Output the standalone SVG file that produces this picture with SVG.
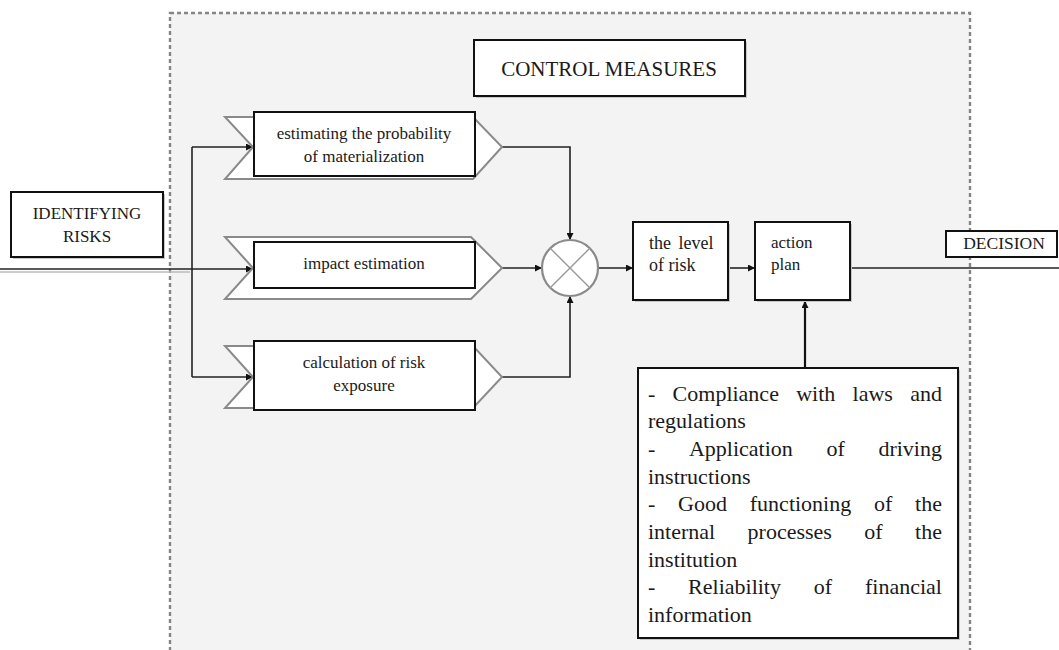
<svg xmlns="http://www.w3.org/2000/svg" width="1059" height="650" viewBox="0 0 1059 650">
<style>
  .t { font-family: "Liberation Serif", "Times New Roman", serif; fill: #1a1a1a; }
  .box { fill: #fff; stroke: #111; stroke-width: 2; }
  .shadow { fill: #c8c8c8; }
  .chev { fill: #fff; stroke: #8a8a8a; stroke-width: 2; }
  .line { fill: none; stroke: #222; stroke-width: 1.6; }
  .thick { fill: none; stroke: #111; stroke-width: 2.2; }
</style>
<defs>
  <marker id="arr" viewBox="0 0 10 10" refX="10" refY="5" markerWidth="7" markerHeight="7" markerUnits="userSpaceOnUse" orient="auto">
    <path d="M0,0 L10,5 L0,10 z" fill="#111"/>
  </marker>
</defs>
<rect x="0" y="0" width="1059" height="650" fill="#fff"/>
<g id="container">
  <rect x="170" y="13" width="800" height="660" fill="#f3f3f3" stroke="#858585" stroke-width="2.4" stroke-dasharray="4 3"/>
</g>

<g id="connectors">
  <line x1="0" y1="272" x2="190" y2="272" stroke="#bbb" stroke-width="1.5"/>
  <line class="line" x1="0" y1="269" x2="253" y2="269" marker-end="url(#arr)"/>
  <line class="line" x1="192" y1="147" x2="192" y2="377"/>
  <line class="line" x1="192" y1="147" x2="253" y2="147" marker-end="url(#arr)"/>
  <line class="line" x1="192" y1="377" x2="253" y2="377" marker-end="url(#arr)"/>
  <polyline class="line" points="502,147 570,147 570,240" marker-end="url(#arr)"/>
  <line class="line" x1="502" y1="268" x2="542" y2="268" marker-end="url(#arr)"/>
  <polyline class="line" points="502,377 570,377 570,296" marker-end="url(#arr)"/>
  <line class="line" x1="598" y1="268" x2="633" y2="268" marker-end="url(#arr)"/>
  <line class="line" x1="728" y1="268" x2="755" y2="268" marker-end="url(#arr)"/>
  <line class="line" x1="850" y1="268" x2="1059" y2="268"/>
  <line class="thick" x1="805" y1="368" x2="805" y2="301" marker-end="url(#arr)"/>
</g>

<g id="control-measures">
  <rect class="shadow" x="476" y="42" width="271" height="56"/>
  <rect class="box" x="474" y="40" width="271" height="56"/>
  <text class="t" x="609" y="76" font-size="21" text-anchor="middle">CONTROL MEASURES</text>
</g>

<g id="identifying-risks">
  <rect class="shadow" x="13" y="194" width="152" height="65"/>
  <rect class="box" x="11" y="192" width="152" height="65"/>
  <text class="t" x="87" y="219" font-size="17" text-anchor="middle">IDENTIFYING</text>
  <text class="t" x="87" y="242" font-size="17" text-anchor="middle">RISKS</text>
</g>

<g id="estimating">
  <polygon class="chev" points="225,117 473,117 502,147 473,179 225,179 253,147"/>
  <rect class="box" x="254" y="112" width="221" height="64"/>
  <text class="t" x="364" y="139" font-size="17" text-anchor="middle">estimating the probability</text>
  <text class="t" x="364" y="162" font-size="17" text-anchor="middle">of materialization</text>
</g>

<g id="impact">
  <polygon class="chev" points="225,237 471,237 502,268 471,299 225,299 253,268"/>
  <rect class="box" x="254" y="242" width="221" height="46"/>
  <text class="t" x="364" y="269" font-size="17" text-anchor="middle">impact estimation</text>
</g>

<g id="calculation">
  <polygon class="chev" points="225,346 473,346 502,377 473,408 225,408 253,377"/>
  <rect class="box" x="254" y="341" width="221" height="69"/>
  <text class="t" x="364" y="368" font-size="17" text-anchor="middle">calculation of risk</text>
  <text class="t" x="364" y="391" font-size="17" text-anchor="middle">exposure</text>
</g>

<g id="combine">
  <circle cx="570" cy="268" r="28" fill="#fff" stroke="#8a8a8a" stroke-width="2.2"/>
  <line x1="550" y1="248" x2="590" y2="288" stroke="#9a9a9a" stroke-width="1.4"/>
  <line x1="590" y1="248" x2="550" y2="288" stroke="#9a9a9a" stroke-width="1.4"/>
</g>

<g id="level-of-risk">
  <rect class="shadow" x="635" y="224" width="95" height="78"/>
  <rect class="box" x="633" y="222" width="95" height="78"/>
  <text class="t" x="649" y="249" font-size="18" word-spacing="3">the level</text>
  <text class="t" x="649" y="271" font-size="18">of risk</text>
</g>

<g id="action-plan">
  <rect class="shadow" x="757" y="224" width="95" height="78"/>
  <rect class="box" x="755" y="222" width="95" height="78"/>
  <text class="t" x="771" y="248" font-size="17">action</text>
  <text class="t" x="771" y="270" font-size="17">plan</text>
</g>

<g id="decision">
  <rect class="box" x="946" y="231" width="111" height="26"/>
  <text class="t" x="1004" y="249" font-size="17.5" text-anchor="middle">DECISION</text>
</g>

<g id="objectives">
  <rect class="shadow" x="640" y="370" width="320" height="270"/>
  <rect class="box" x="638" y="368" width="320" height="270"/>
  <g class="t" font-size="22">
    <text y="400.5"><tspan x="648">-</tspan><tspan x="672.6">Compliance</tspan><tspan x="796.2">with</tspan><tspan x="852.6">laws</tspan><tspan x="910.2">and</tspan></text>
    <text x="648" y="428.2">regulations</text>
    <text y="455.9"><tspan x="648">-</tspan><tspan x="688.9">Application</tspan><tspan x="826.4">of</tspan><tspan x="878.4">driving</tspan></text>
    <text x="648" y="483.6">instructions</text>
    <text y="511.3"><tspan x="648">-</tspan><tspan x="678.1">Good</tspan><tspan x="749.8">functioning</tspan><tspan x="874">of</tspan><tspan x="915.1">the</tspan></text>
    <text y="539"><tspan x="648">internal</tspan><tspan x="747.6">processes</tspan><tspan x="864.3">of</tspan><tspan x="915.1">the</tspan></text>
    <text x="648" y="566.7">institution</text>
    <text y="594.4"><tspan x="648">-</tspan><tspan x="688.1">Reliability</tspan><tspan x="813.8">of</tspan><tspan x="865">financial</tspan></text>
    <text x="648" y="622">information</text>
  </g>
</g>
</svg>
